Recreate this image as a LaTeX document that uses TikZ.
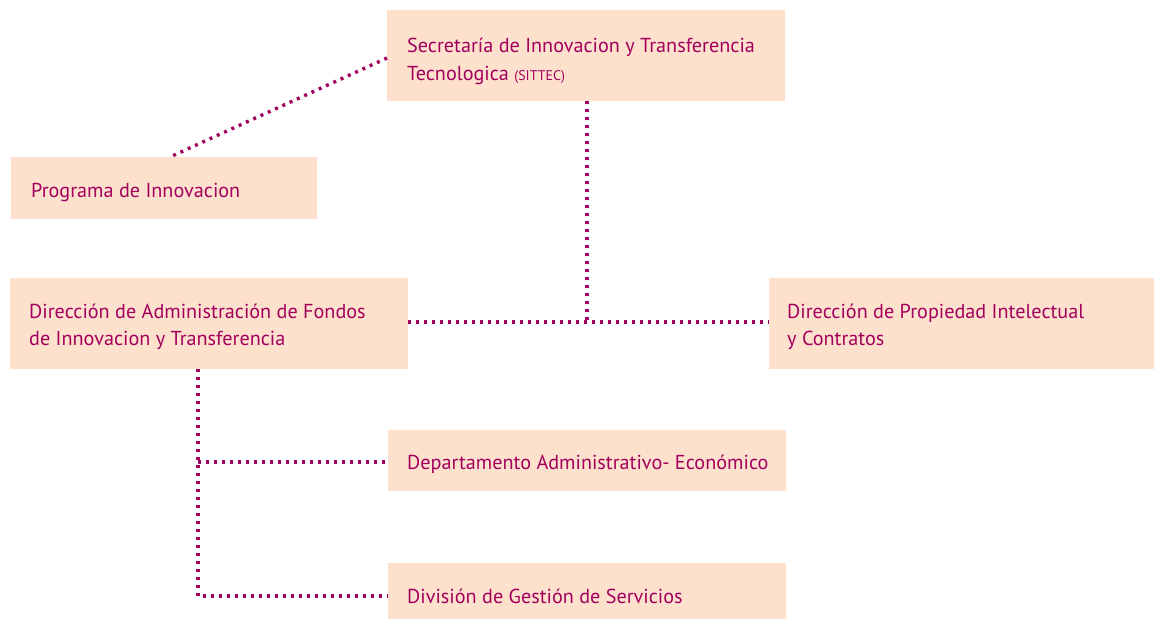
\documentclass[tikz,border=0pt]{standalone}
\usepackage{fontspec}
\setmainfont{PT Sans}
\definecolor{boxfill}{RGB}{253,225,205}
\definecolor{linecol}{RGB}{160,0,95}
\definecolor{textcol}{RGB}{163,0,94}
\begin{document}
\begin{tikzpicture}[x=1pt,y=-1pt,
  orgbox/.style={fill=boxfill, draw=none, inner sep=0pt, outer sep=0pt, anchor=north west},
  lbl/.style={anchor=base west, inner sep=0pt, text=textcol, font=\fontsize{20.2}{27}\selectfont, align=left},
  link/.style={draw=linecol, line width=3.4pt, dash pattern=on 3pt off 5pt}]
\useasboundingbox (0,0) rectangle (1154,619);
% boxes
\node[orgbox, minimum width=398pt, minimum height=91pt] (sit) at (387,10) {};
\node[orgbox, minimum width=306pt, minimum height=62pt] (prog) at (11,157) {};
\node[orgbox, minimum width=398pt, minimum height=91pt] (adm) at (10,278) {};
\node[orgbox, minimum width=385pt, minimum height=91pt] (prop) at (769,278) {};
\node[orgbox, minimum width=398pt, minimum height=61pt] (dep) at (388,430) {};
\node[orgbox, minimum width=398pt, minimum height=56pt] (div) at (388,563) {};
% texts
\node[lbl] (tsit1) at (407,52) {Secretaría de Innovacion y Transferencia};
\node[lbl] (tsit2) at (407,80) {Tecnologica {\fontsize{14}{14}\selectfont(SITTEC)}};
\node[lbl] (tprog) at (31,197) {Programa de Innovacion};
\node[lbl] (tadm1) at (29,318) {Dirección de Administración de Fondos};
\node[lbl] (tadm2) at (29,345) {de Innovacion y Transferencia};
\node[lbl] (tprop1) at (787,318) {Dirección de Propiedad Intelectual};
\node[lbl] (tprop2) at (787,345) {y Contratos};
\node[lbl] (tdep) at (407,469) {Departamento Administrativo- Económico};
\node[lbl] (tdiv) at (407,603) {División de Gestión de Servicios};
% connectors
\coordinate (j1) at (587,322);
\coordinate (j2) at (198,462);
\coordinate (j3) at (198,596);
\draw[link] (sit.west |- 0,58) -- (prog.north -| 170,0);
\draw[link] (sit.south -| j1) -- (j1);
\draw[link] (adm.east |- j1) -- (prop.west |- j1);
\draw[link] (adm.south -| j2) -- (j3) -- (div.west |- j3);
\draw[link] (j2) -- (dep.west |- j2);
\end{tikzpicture}
\end{document}
